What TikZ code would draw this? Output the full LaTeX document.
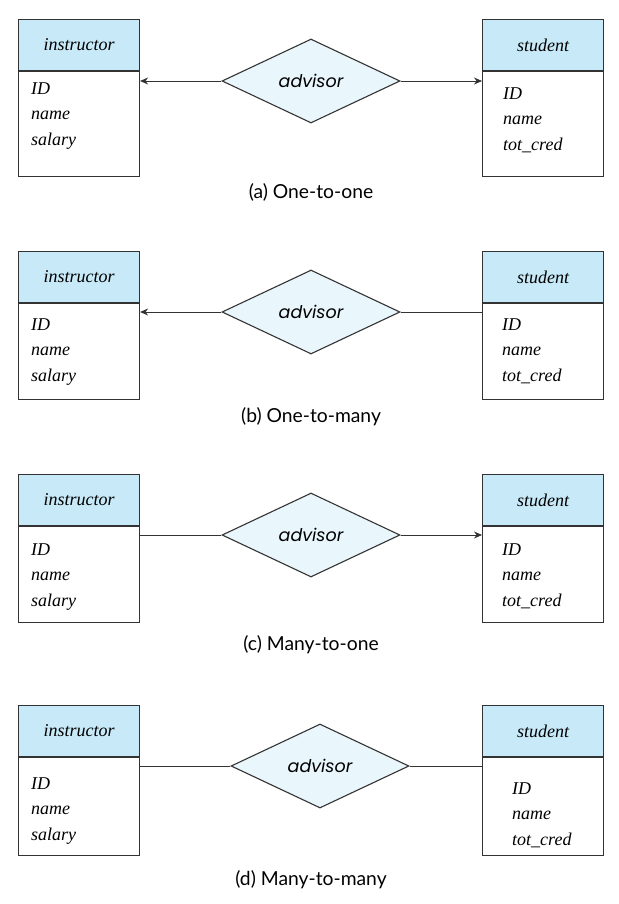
\documentclass[tikz,border=0pt]{standalone}
\usepackage{fontspec}
\setmainfont{Liberation Serif}
\newfontfamily\entfont{Liberation Serif}
\newfontfamily\relfont{Poppins}
\newfontfamily\capfont{Lato}
\usetikzlibrary{
  arrows.meta,
  positioning,
  shapes.geometric,
  calc
}
\definecolor{headBlue}{RGB}{199,233,248}
\definecolor{relBlue}{RGB}{233,246,252}
\definecolor{edgeGray}{RGB}{51,51,51}
\tikzset{
  head/.style={
    draw=edgeGray,
    fill=headBlue,
    line width=1.1pt,
    minimum width=121pt,
    minimum height=51pt,
    inner sep=0pt,
    font=\entfont\itshape\fontsize{18pt}{22pt}\selectfont
  },
  body/.style={
    draw=edgeGray,
    fill=white,
    line width=1.1pt,
    minimum width=121pt,
    inner sep=0pt
  },
  attr/.style={
    align=left,
    inner sep=0pt,
    anchor=north west,
    font=\entfont\itshape\fontsize{18pt}{25.5pt}\selectfont
  },
  rel/.style={
    diamond,
    draw=edgeGray,
    fill=relBlue,
    line width=1.1pt,
    minimum width=178pt,
    minimum height=84pt,
    inner sep=0pt,
    font=\relfont\itshape\fontsize{17.5pt}{22pt}\selectfont
  },
  capt/.style={font=\capfont\fontsize{19.3pt}{22pt}\selectfont},
  one/.style={-{Stealth[length=8pt,width=7pt]}},
  many/.style={-},
  conn/.style={draw=edgeGray, line width=0.9pt}
}

\begin{document}
\begin{tikzpicture}[x=1pt, y=-1pt]
    \useasboundingbox (0,0) rectangle (618,904);

    % one row per mapping cardinality
    \foreach \p/\yt/\bh/\ry/\dx/\cy/\ia/\sa/\sx/\lend/\rend/\ctext in {
      a/19/105/81/311/192/11/16/21/one/one/One-to-one,
      b/251/96/312/311/417/15/15/20/one/many/One-to-many,
      c/474/96/535/311/645/17/17/20/many/one/Many-to-one,
      d/705/98/766/320/880/20/25/30/many/many/Many-to-many}{
      \node[head, anchor=north west] (insh\p) at (18,\yt) {instructor};
      \node[body, below=0pt of insh\p, minimum height=\bh pt] (insb\p) {};
      \node[attr] (insa\p) at ($(insb\p.north west)+(13,\ia)$)
        {ID\\name\\salary};

      \node[head, anchor=north west] (stuh\p) at (482,\yt) {student};
      \node[body, below=0pt of stuh\p, minimum height=\bh pt] (stub\p) {};
      \node[attr] (stua\p) at ($(stub\p.north west)+(\sx,\sa)$)
        {ID\\name\\tot\_cred};

      \node[rel] (adv\p) at (\dx,\ry) {advisor};

      \draw[conn,\lend] (adv\p.west) -- (adv\p.west -| insb\p.east);
      \draw[conn,\rend] (adv\p.east) -- (adv\p.east -| stub\p.west);

      \node[capt] (cap\p) at (311,\cy) {(\p) \ctext};
    }
\end{tikzpicture}
\end{document}
